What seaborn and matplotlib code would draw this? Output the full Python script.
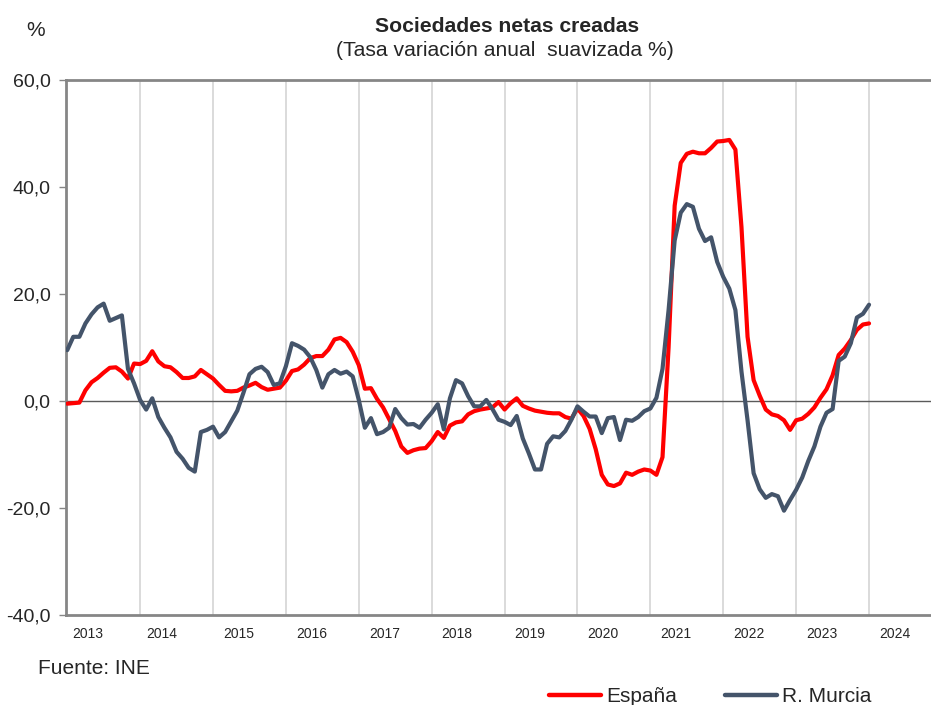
import matplotlib
matplotlib.use("Agg")
import numpy as np
import pandas as pd
import seaborn as sns
from matplotlib import pyplot as plt
from matplotlib.lines import Line2D

# monthly series, Jan 2013 .. Jan 2024
espana = [
    -0.5, -0.4, -0.3, 2.0, 3.5, 4.3, 5.3, 6.2, 6.3, 5.5, 4.2, 7.0,
    6.9, 7.5, 9.3, 7.4, 6.5, 6.3, 5.4, 4.3, 4.3, 4.6, 5.8, 5.0,
    4.2, 3.0, 1.9, 1.8, 1.9, 2.5, 2.9, 3.4, 2.6, 2.1, 2.3, 2.5,
    3.8, 5.6, 5.9, 6.8, 8.0, 8.4, 8.4, 9.6, 11.5, 11.8, 11.0, 9.2,
    6.7, 2.3, 2.4, 0.4, -1.2, -3.4, -5.6, -8.5, -9.7, -9.2, -8.9, -8.8,
    -7.5, -5.8, -6.9, -4.6, -4.0, -3.8, -2.5, -1.9, -1.6, -1.4, -1.2, -0.2,
    -1.6, -0.4, 0.5, -0.9, -1.4, -1.8, -2.0, -2.2, -2.3, -2.3, -3.0, -3.3,
    -1.4, -2.8, -5.2, -9.0, -13.8, -15.6, -15.9, -15.4, -13.4, -13.8, -13.2, -12.8,
    -13.0, -13.8, -10.5, 10.0, 36.5, 44.5, 46.2, 46.6, 46.3, 46.3, 47.3, 48.5,
    48.6, 48.8, 47.0, 32.5, 12.0, 3.9, 1.0, -1.6, -2.5, -2.8, -3.6, -5.4,
    -3.6, -3.3, -2.4, -1.2, 0.6, 2.2, 4.8, 8.6, 9.8, 11.4, 13.3, 14.3,
    14.5,
]
murcia = [
    9.5, 12.0, 12.0, 14.5, 16.2, 17.5, 18.2, 15.0, 15.5, 16.0, 6.0, 3.3,
    0.2, -1.6, 0.5, -3.0, -5.0, -6.8, -9.5, -10.8, -12.5, -13.2, -5.8, -5.4,
    -4.8, -6.8, -5.8, -3.8, -1.8, 1.5, 5.0, 6.0, 6.4, 5.4, 3.0, 3.3,
    6.5, 10.8, 10.3, 9.6, 8.2, 5.8, 2.5, 5.0, 5.8, 5.1, 5.5, 4.6,
    0.2, -5.0, -3.2, -6.2, -5.8, -5.0, -1.5, -3.2, -4.4, -4.3, -5.0, -3.5,
    -2.2, -0.6, -5.3, 0.5, 3.9, 3.3, 0.9, -1.0, -1.0, 0.2, -1.5, -3.5,
    -3.9, -4.5, -2.8, -7.0, -9.8, -12.8, -12.8, -8.0, -6.6, -6.8, -5.6, -3.5,
    -1.0, -2.0, -2.9, -2.9, -6.0, -3.2, -3.0, -7.3, -3.5, -3.7, -3.0, -1.9,
    -1.4, 0.6, 6.0, 17.0, 30.0, 35.2, 36.8, 36.3, 32.2, 29.9, 30.6, 26.0,
    23.2, 21.0, 17.0, 5.5, -3.6, -13.5, -16.5, -18.1, -17.4, -17.8, -20.5, -18.5,
    -16.6, -14.3, -11.2, -8.5, -4.8, -2.2, -1.5, 7.5, 8.3, 10.8, 15.6, 16.3,
    18.0,
]
years = ["2013", "2014", "2015", "2016", "2017", "2018",
         "2019", "2020", "2021", "2022", "2023", "2024"]
y_ticks = [-40, -20, 0, 20, 40, 60]
y_labels = ["-40,0", "-20,0", "0,0", "20,0", "40,0", "60,0"]

series_names = ["España", "R. Murcia"]
colors = {"España": "#ff0000", "R. Murcia": "#44546a"}

df = pd.concat([
    pd.DataFrame({"mes": np.arange(len(espana)), "valor": espana, "serie": "España"}),
    pd.DataFrame({"mes": np.arange(len(murcia)), "valor": murcia, "serie": "R. Murcia"}),
])

sns.set_style("white")
plt.rcParams["font.family"] = ["Liberation Sans", "DejaVu Sans"]

fig = plt.figure(figsize=(9.31, 7.05), dpi=100)
ax = fig.add_axes([66 / 931, 1 - 615 / 705, 1 - 66 / 931, (615 - 80) / 705])

sns.lineplot(data=df, x="mes", y="valor", hue="serie", hue_order=series_names,
             palette=colors, linewidth=3.0, legend=False, ax=ax, zorder=3)

ax.axhline(0, color="#5a5a5a", linewidth=1.0, zorder=2)

ax.set_xlim(-0.2, 142.2)
ax.set_ylim(-40, 60)
ax.set_yticks(y_ticks)
ax.set_yticklabels(y_labels, fontsize=14)

# year labels sit a few months after the January gridlines (first two a bit closer)
label_pos = [12 * i + (3.3 if i == 0 else 3.5 if i == 1 else 4.2) for i in range(len(years))]
ax.set_xticks(label_pos)
ax.set_xticklabels(years, fontsize=10)
ax.set_xticks(range(12, 133, 12), minor=True)
ax.grid(axis="x", which="minor", color="#d4d4d4", linewidth=1.2)
ax.grid(axis="x", which="major", visible=False)
ax.tick_params(axis="x", which="both", length=0, pad=9)
ax.tick_params(axis="y", length=5, width=1, color="#868686", pad=6, left=True)
ax.set_xlabel("")
ax.set_ylabel("")

for side in ["left", "top", "bottom"]:
    ax.spines[side].set_color("#868686")
    ax.spines[side].set_linewidth(2.0)
ax.spines["right"].set_visible(False)

fig.text(507 / 931, 1 - 27 / 705, "Sociedades netas creadas", ha="center", va="center",
         fontsize=15.2, fontweight="bold")
fig.text(505 / 931, 1 - 51 / 705, "(Tasa variación anual  suavizada %)", ha="center",
         va="center", fontsize=15.2)
fig.text(36 / 931, 1 - 30 / 705, "%", ha="center", va="center", fontsize=15)
fig.text(38 / 931, 1 - 669 / 705, "Fuente: INE", ha="left", va="center", fontsize=15)

handles = [Line2D([], [], color=colors[s], linewidth=3.2) for s in series_names]
fig.legend(handles, series_names, loc="center left", bbox_to_anchor=(549 / 931, 1 - 697 / 705),
           ncol=2, frameon=False, fontsize=15, handlelength=2.5, handletextpad=0.25,
           columnspacing=2.3, borderpad=0, borderaxespad=0)

fig.savefig("out.png", dpi=100)
